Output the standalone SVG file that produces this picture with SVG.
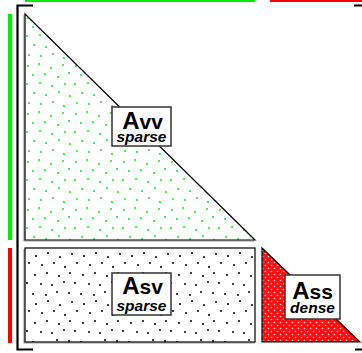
<svg xmlns="http://www.w3.org/2000/svg" width="362" height="353" viewBox="0 0 362 353">
<style>
.lbl{fill:#fff;stroke:#333;stroke-width:1.5}
.big{font-family:"Liberation Sans",Arial,sans-serif;font-weight:bold;fill:#000}
.sub{font-family:"Liberation Sans",Arial,sans-serif;font-weight:bold;font-style:italic;font-size:15.5px;fill:#000}
.edge{stroke:#000;stroke-width:1.2}
.shadow{fill:none;stroke:#999;stroke-width:1.2}
</style>
<defs>
<pattern id="gdots" width="48" height="48" patternUnits="userSpaceOnUse" x="25" y="14">
<g fill="#22ee22">
<circle cx="3" cy="4" r="1.1"/><circle cx="14" cy="2" r="1.1"/><circle cx="26" cy="6" r="1.1"/><circle cx="38" cy="3" r="1.1"/>
<circle cx="8" cy="13" r="1.1"/><circle cx="20" cy="12" r="1.1"/><circle cx="33" cy="15" r="1.1"/><circle cx="44" cy="11" r="1.1"/>
<circle cx="2" cy="22" r="1.1"/><circle cx="15" cy="21" r="1.1"/><circle cx="27" cy="24" r="1.1"/><circle cx="40" cy="22" r="1.1"/>
<circle cx="9" cy="31" r="1.1"/><circle cx="21" cy="33" r="1.1"/><circle cx="34" cy="30" r="1.1"/><circle cx="45" cy="34" r="1.1"/>
<circle cx="4" cy="41" r="1.1"/><circle cx="16" cy="42" r="1.1"/><circle cx="28" cy="40" r="1.1"/><circle cx="39" cy="44" r="1.1"/>
</g>
</pattern>
<pattern id="kdots" width="48" height="48" patternUnits="userSpaceOnUse" x="19" y="251">
<g fill="#111">
<circle cx="5" cy="3" r="1.1"/><circle cx="17" cy="5" r="1.1"/><circle cx="29" cy="2" r="1.1"/><circle cx="41" cy="6" r="1.1"/>
<circle cx="10" cy="12" r="1.1"/><circle cx="23" cy="14" r="1.1"/><circle cx="35" cy="12" r="1.1"/><circle cx="46" cy="16" r="1.1"/>
<circle cx="3" cy="22" r="1.1"/><circle cx="16" cy="24" r="1.1"/><circle cx="28" cy="22" r="1.1"/><circle cx="40" cy="25" r="1.1"/>
<circle cx="8" cy="32" r="1.1"/><circle cx="22" cy="33" r="1.1"/><circle cx="33" cy="34" r="1.1"/><circle cx="45" cy="31" r="1.1"/>
<circle cx="2" cy="42" r="1.1"/><circle cx="14" cy="43" r="1.1"/><circle cx="27" cy="44" r="1.1"/><circle cx="38" cy="41" r="1.1"/>
</g>
</pattern>
<pattern id="rdots" width="6" height="6" patternUnits="userSpaceOnUse">
<rect width="6" height="6" fill="#ff1010"/>
<circle cx="1.5" cy="1.5" r="0.8" fill="#ffdddd"/>
<circle cx="4.5" cy="4.5" r="0.8" fill="#ffdddd"/>
</pattern>
</defs>

<g id="frame">
<rect x="25" y="0" width="230" height="2" fill="#00ee00"/>
<rect x="270" y="0" width="92" height="2" fill="#ff0000"/>
<rect x="8" y="14" width="4" height="226" fill="#00ee00"/>
<rect x="8" y="248" width="4" height="95" fill="#ff0000"/>
<path d="M33,5.5 H17.5 V349.5 H33" fill="none" stroke="#000" stroke-width="2.2"/>
<path d="M354,5.5 H362 M355,349.5 H362" fill="none" stroke="#000" stroke-width="2"/>
</g>

<g id="Avv">
<path d="M24,15 L24,241 L254,241" class="shadow"/>
<polygon points="25,14 25,240 255,240" style="fill:url(#gdots)" class="edge"/>
<rect x="112" y="107" width="59" height="39" class="lbl"/>
<text x="142.5" y="128.5" text-anchor="middle" class="big" font-size="24">A<tspan font-size="21">vv</tspan></text>
<text x="141.5" y="142" text-anchor="middle" class="sub">sparse</text>
</g>

<g id="Asv">
<path d="M24,249 L24,343 L255,343" class="shadow"/>
<rect x="25" y="248" width="230" height="94" style="fill:url(#kdots)" class="edge"/>
<rect x="112" y="273" width="59" height="42" class="lbl"/>
<text x="142.5" y="293.5" text-anchor="middle" class="big" font-size="24">A<tspan font-size="21">sv</tspan></text>
<text x="141.5" y="311" text-anchor="middle" class="sub">sparse</text>
</g>

<g id="Ass">
<polygon points="262,248 262,342 360,342" style="fill:url(#rdots)" class="edge"/>
<rect x="285" y="275" width="55" height="44" class="lbl"/>
<text x="312.5" y="298.5" text-anchor="middle" class="big" font-size="24">A<tspan font-size="21">ss</tspan></text>
<text x="312.5" y="313" text-anchor="middle" class="sub">dense</text>
</g>

<g id="connectors"/>
</svg>
